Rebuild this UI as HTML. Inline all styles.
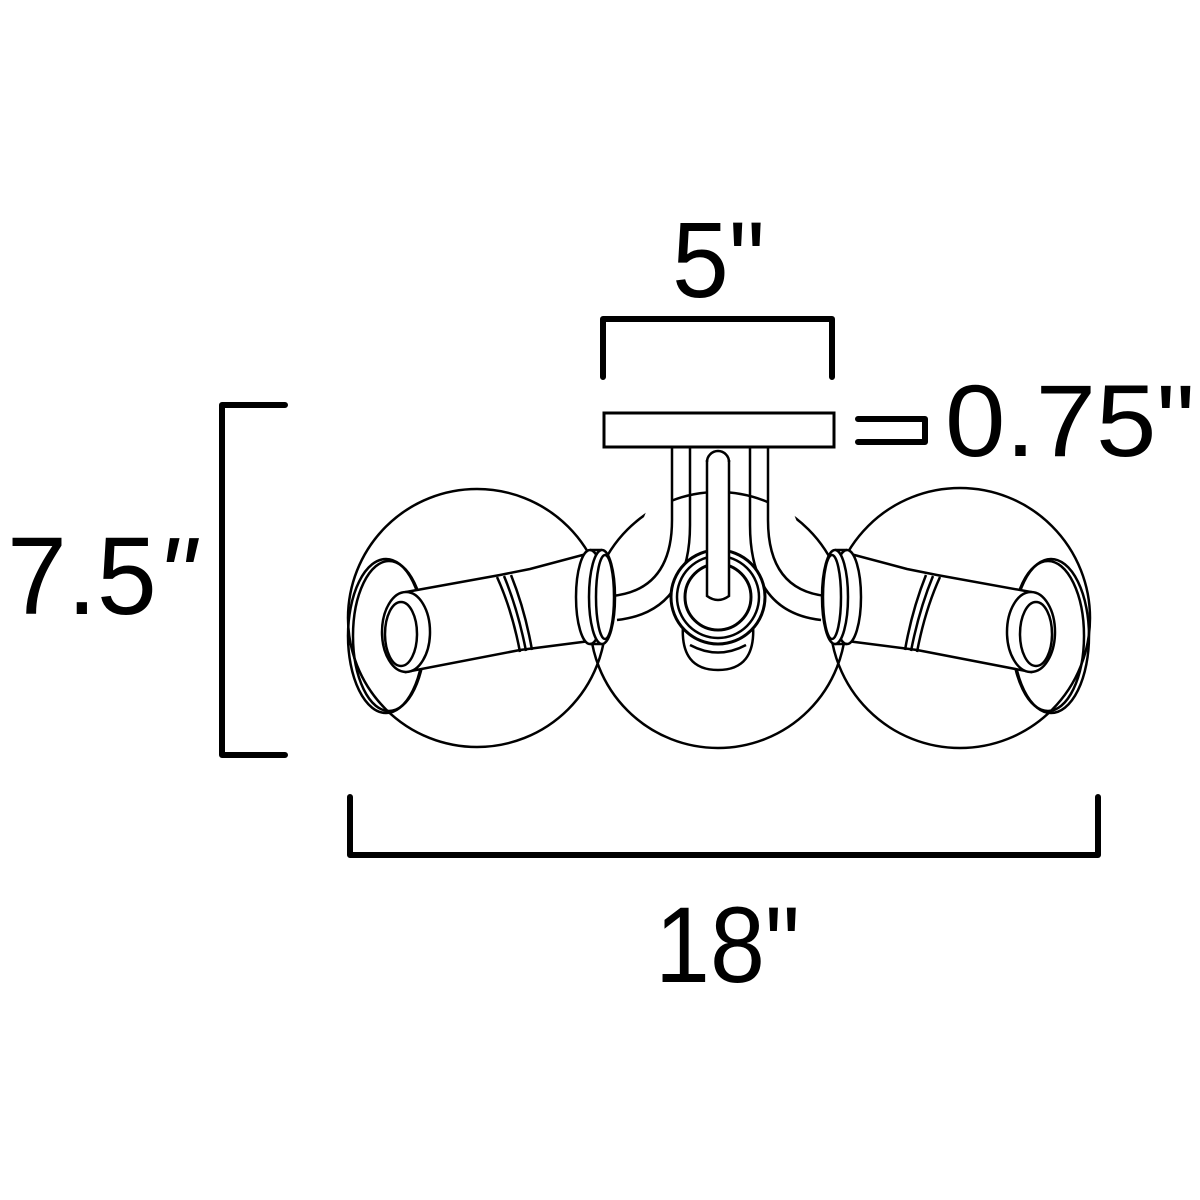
<!DOCTYPE html>
<html><head><style>html,body{margin:0;padding:0;background:#fff}svg{display:block}</style></head>
<body>
<svg width="1200" height="1200" viewBox="0 0 1200 1200" xmlns="http://www.w3.org/2000/svg">
<g font-family="Liberation Sans, sans-serif" fill="#000">
<text x="672" y="297" font-size="108" textLength="93" lengthAdjust="spacingAndGlyphs">5"</text>
<text x="945" y="456" font-size="102" textLength="250" lengthAdjust="spacingAndGlyphs">0.75"</text>
<text x="7" y="614" font-size="110" textLength="188" lengthAdjust="spacingAndGlyphs">7.5<tspan font-style="italic">"</tspan></text>
<text x="655" y="982" font-size="108" textLength="145" lengthAdjust="spacingAndGlyphs">18"</text>
</g>
<g fill="none" stroke="#000" stroke-width="6" stroke-linecap="round" stroke-linejoin="round">
<path d="M603 377 V319 H832 V377"/>
<path d="M858 419 H925 V442 H858"/>
<path d="M285 405 H222 V755 H285"/>
<path d="M350 797 V855 H1098 V797"/>
</g>
<g fill="none" stroke="#000" stroke-width="2.5">
<circle cx="477" cy="618" r="129"/>
<circle cx="718" cy="620" r="128"/>
<circle cx="960" cy="618" r="130"/>
<rect x="604" y="413" width="230" height="34" fill="#fff" stroke-width="3"/>
<path d="M672 448 V520 Q672 590 612 596" fill="#fff"/>
<path d="M690 448 V525 Q690 612 617 620"/>
<path d="M768 448 V520 Q768 590 826 596" fill="#fff"/>
<path d="M750 448 V525 Q750 612 821 620"/>
<path d="M683 625 Q680 670 718 670 Q756 670 753 625" fill="#fff"/>
<path d="M690 645 Q718 660 746 645"/>
<circle cx="718" cy="597" r="47" fill="#fff" stroke-width="3"/>
<circle cx="718" cy="597" r="41"/>
<circle cx="718" cy="597" r="33" stroke-width="3"/>
<path d="M707 460 V596 Q718 604 729 596 V460" fill="#fff"/>
<path d="M707 462 A11 11 0 0 1 729 462"/>
</g>
<defs>
<g id="sock" fill="none" stroke="#000" stroke-width="2.5">
<ellipse cx="386" cy="636" rx="38" ry="77"/>
<ellipse cx="389" cy="636" rx="36" ry="75"/>
<path d="M406 592 L500 575 L530 569 L590 553 L590 641 L520 650 L406 672 Z" fill="#fff"/>
<ellipse cx="590" cy="597" rx="14" ry="47" fill="#fff"/>
<path d="M590 550 H602 M590 644 H602"/>
<ellipse cx="602" cy="597" rx="13" ry="47" fill="#fff"/>
<ellipse cx="605" cy="597" rx="9" ry="42"/>
<path d="M497 577 Q512 610 520 652 M504 576 Q518 610 526 651 M511 575 Q525 610 532 650"/>
<ellipse cx="406" cy="632" rx="24" ry="40" fill="#fff"/>
<ellipse cx="401" cy="634" rx="16" ry="32"/>
</g>
</defs>
<use href="#sock"/>
<use href="#sock" transform="translate(1437 0) scale(-1 1)"/>
</svg>
</body></html>
